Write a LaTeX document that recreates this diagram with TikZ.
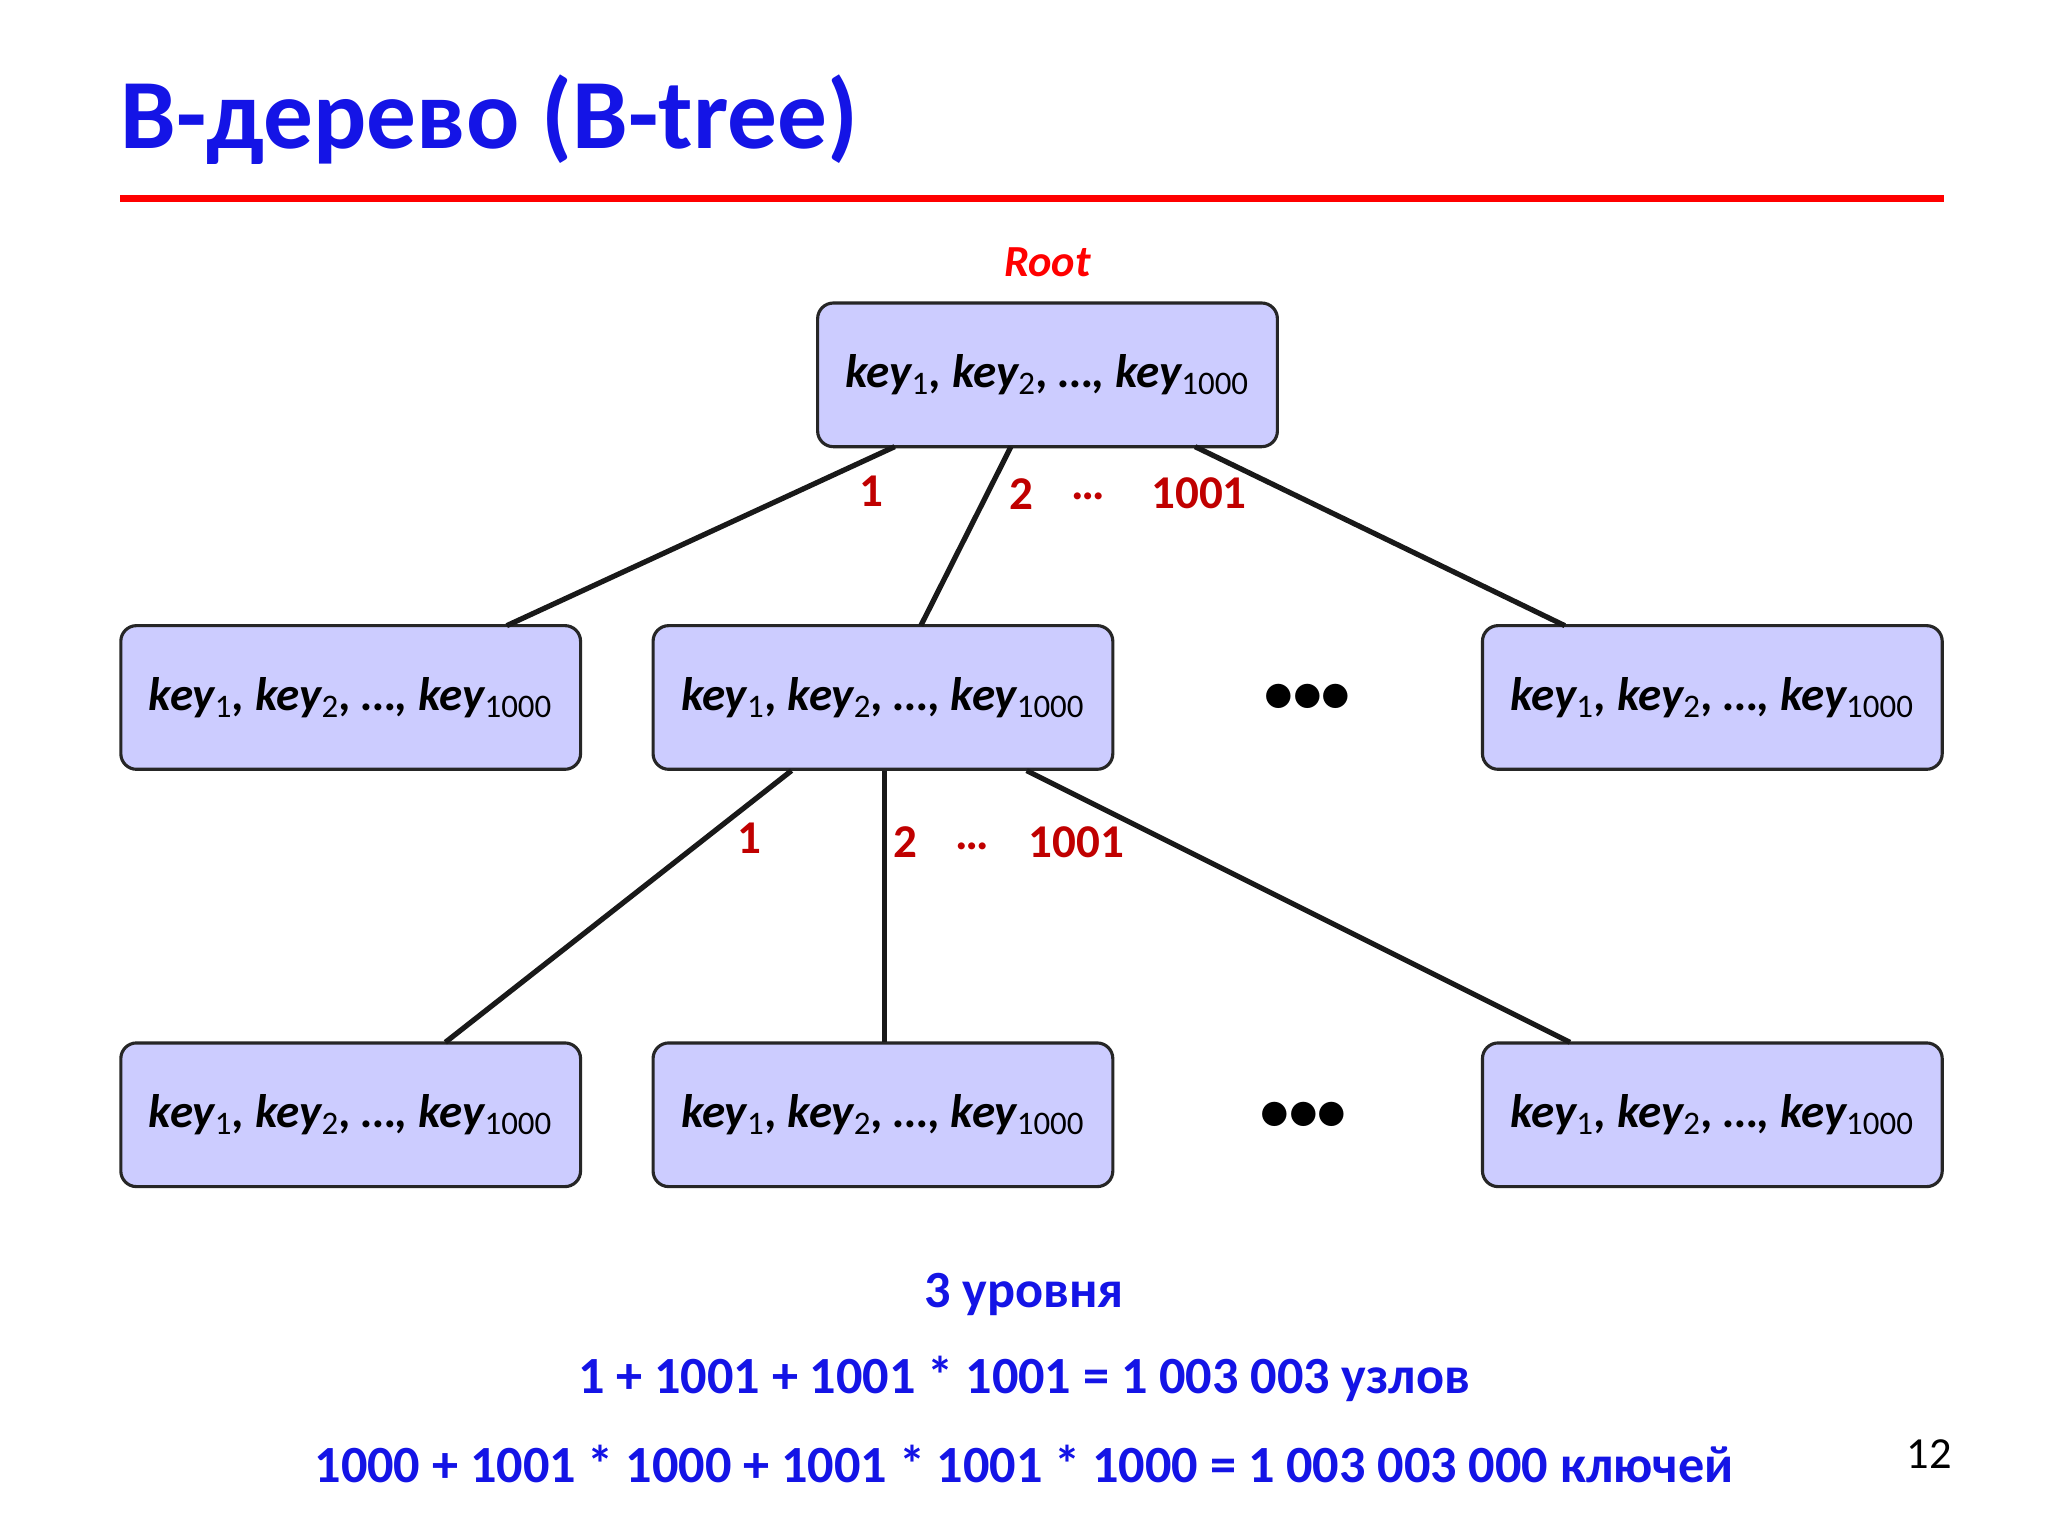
\documentclass[tikz,border=0pt]{standalone}
\usepackage{fontspec}
\setmainfont{Carlito}
\begin{document}
\begin{tikzpicture}[x=0.5pt,y=-0.5pt,
 box/.style={draw=black!85,line width=1.2pt,fill={rgb,255:red,204;green,204;blue,255},rounded corners=6pt,minimum width=176pt,minimum height=55pt,inner sep=0pt,font=\fontsize{18}{20}\selectfont\bfseries\itshape},
 edge/.style={line width=2pt,black!90},
 lab/.style={font=\fontsize{18}{20}\selectfont\bfseries,text={rgb,255:red,192;green,0;blue,0}},
 dots/.style={font=\fontsize{22}{24}\selectfont\bfseries},
 info/.style={font=\fontsize{20}{24}\selectfont\bfseries,text={rgb,255:red,20;green,20;blue,230}}]
\useasboundingbox (0,0) rectangle (1568,1176);
\fill[white] (0,0) rectangle (1568,1176);
\newcommand{\keys}{key$_{\mathrm{1}}$, key$_{\mathrm{2}}$, …, key$_{\mathrm{1000}}$}
\node[anchor=west,font=\fontsize{38}{40}\selectfont\bfseries,text={rgb,255:red,20;green,20;blue,230},inner sep=0pt] (title) at (92,92) {B-дерево (B-tree)};
\draw[line width=2.5pt,red] (92,152) coordinate (l1) -- (1488,152) coordinate (l2);
\node[font=\fontsize{17}{20}\selectfont\bfseries\itshape,text=red] (rootlab) at (802,201) {Root};
\node[box] (r) at (802,287) {\keys};
\node[box] (a) at (268.5,534) {\keys};
\node[box] (b) at (676,534) {\keys};
\node[box] (c) at (1311,534) {\keys};
\node[box] (d) at (268.5,853.5) {\keys};
\node[box] (e) at (676,853.5) {\keys};
\node[box] (f) at (1311,853.5) {\keys};
\coordinate (r1) at (685,342); \coordinate (r2) at (774,342); \coordinate (r3) at (915,342);
\coordinate (a1) at (388,479); \coordinate (b1) at (705,479); \coordinate (c1) at (1198,479);
\coordinate (b2) at (606,590); \coordinate (b3) at (677,590); \coordinate (b4) at (786,590);
\coordinate (d1) at (341,798); \coordinate (e1) at (677,798); \coordinate (f1) at (1202,798);
\draw[edge] (r1) -- (a1); \draw[edge] (r2) -- (b1); \draw[edge] (r3) -- (c1);
\draw[edge] (b2) -- (d1); \draw[edge] (b3) -- (e1); \draw[edge] (b4) -- (f1);
\node[lab] (n1) at (667,376) {1};
\node[lab] (n2) at (782,378) {2};
\node[lab] (n3) at (833,380) {…};
\node[lab] (n4) at (918,378) {1001};
\node[lab] (m1) at (574,642) {1};
\node[lab] (m2) at (693,645) {2};
\node[lab] (m3) at (744,648) {…};
\node[lab] (m4) at (824,645) {1001};
\node[dots] (dd1) at (1001,535) {•••};
\node[dots] (dd2) at (998,855) {•••};
\node[info] (t1) at (784,991) {3 уровня};
\node[info] (t2) at (784,1056) {1 + 1001 + 1001 * 1001 = 1 003 003 узлов};
\node[info] (t3) at (784,1121) {1000 + 1001 * 1000 + 1001 * 1001 * 1000 = 1 003 003 000 ключей};
\node[font=\fontsize{17}{20}\selectfont] (pg) at (1477,1113) {12};
\end{tikzpicture}
\end{document}
